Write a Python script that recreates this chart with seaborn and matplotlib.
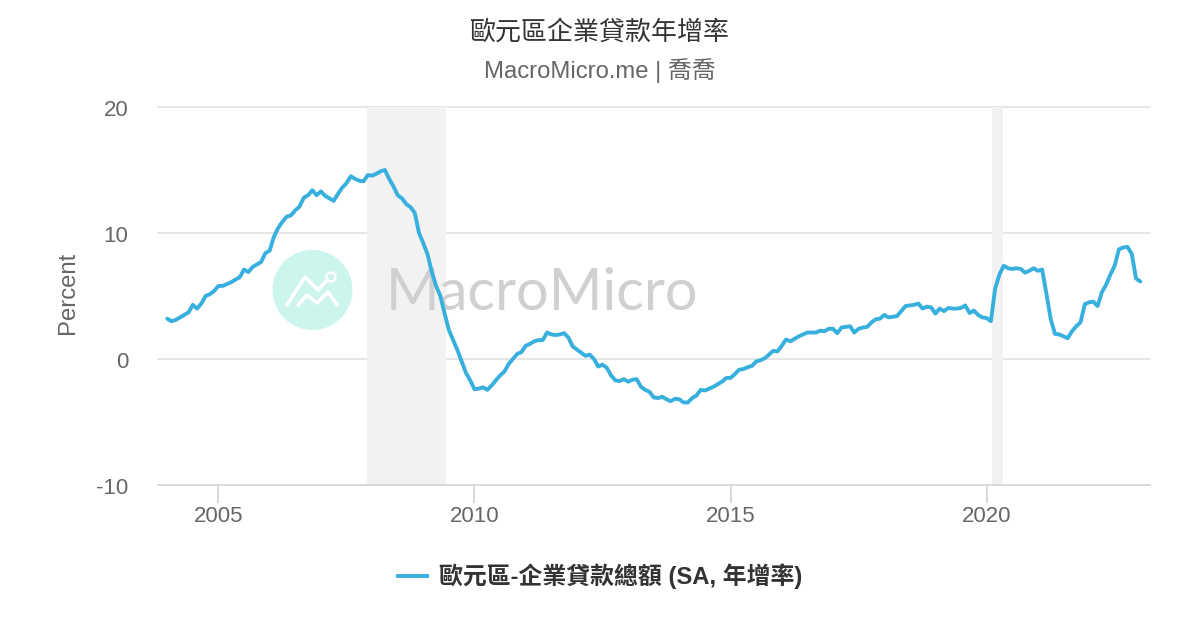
import matplotlib
matplotlib.use('Agg')
import numpy as np
import pandas as pd
import seaborn as sns
from matplotlib import pyplot as plt
from matplotlib.lines import Line2D
from matplotlib.patches import Circle
from matplotlib.transforms import ScaledTranslation

# monthly readings, one row per year
v2004 = [3.2, 3.0, 3.1, 3.3, 3.5, 3.7, 4.3, 4.0, 4.4, 5.0, 5.15, 5.4]
v2005 = [5.8, 5.8, 5.95, 6.1, 6.3, 6.5, 7.1, 6.9, 7.3, 7.5, 7.7, 8.4]
v2006 = [8.6, 9.7, 10.4, 10.9, 11.3, 11.4, 11.8, 12.1, 12.8, 13.0, 13.4, 13.0]
v2007 = [13.3, 12.95, 12.75, 12.55, 13.1, 13.6, 13.95, 14.5, 14.3, 14.15, 14.1, 14.6]
v2008 = [14.55, 14.7, 14.9, 15.0, 14.3, 13.7, 13.0, 12.75, 12.3, 12.05, 11.6, 10.0]
v2009 = [9.2, 8.3, 6.9, 5.8, 5.0, 3.6, 2.3, 1.5, 0.7, -0.2, -1.1, -1.7]
v2010 = [-2.4, -2.35, -2.25, -2.45, -2.1, -1.7, -1.3, -1.0, -0.4, 0.0, 0.4, 0.55]
v2011 = [1.05, 1.2, 1.4, 1.5, 1.5, 2.1, 1.95, 1.9, 1.95, 2.05, 1.7, 1.0]
v2012 = [0.75, 0.5, 0.25, 0.35, 0.0, -0.6, -0.45, -0.7, -1.3, -1.7, -1.75, -1.6]
v2013 = [-1.8, -1.65, -1.6, -2.2, -2.45, -2.6, -3.05, -3.1, -3.0, -3.2, -3.35, -3.15]
v2014 = [-3.2, -3.45, -3.45, -3.1, -2.9, -2.45, -2.5, -2.35, -2.2, -2.0, -1.8, -1.5]
v2015 = [-1.5, -1.2, -0.85, -0.8, -0.65, -0.55, -0.2, -0.1, 0.05, 0.35, 0.65, 0.6]
v2016 = [1.05, 1.55, 1.4, 1.6, 1.8, 1.95, 2.1, 2.1, 2.1, 2.25, 2.2, 2.4]
v2017 = [2.4, 2.05, 2.5, 2.55, 2.6, 2.1, 2.4, 2.5, 2.55, 2.9, 3.15, 3.2]
v2018 = [3.5, 3.3, 3.35, 3.4, 3.8, 4.2, 4.25, 4.3, 4.4, 4.0, 4.15, 4.1]
v2019 = [3.6, 4.0, 3.8, 4.05, 4.0, 4.0, 4.05, 4.25, 3.65, 3.85, 3.5, 3.3]
v2020 = [3.25, 3.0, 5.6, 6.7, 7.4, 7.2, 7.15, 7.2, 7.15, 6.85, 7.0, 7.2]
v2021 = [7.0, 7.1, 5.2, 3.2, 2.0, 1.95, 1.8, 1.65, 2.2, 2.6, 2.9, 4.35]
v2022 = [4.5, 4.55, 4.2, 5.3, 5.9, 6.7, 7.4, 8.7, 8.85, 8.9, 8.35, 6.4]
v2023 = [6.15]

values = (v2004 + v2005 + v2006 + v2007 + v2008 + v2009 + v2010 + v2011 + v2012 + v2013
          + v2014 + v2015 + v2016 + v2017 + v2018 + v2019 + v2020 + v2021 + v2022 + v2023)
dates = pd.date_range('2004-01-01', periods=len(values), freq='MS')
years = dates.year + (dates.month - 1) / 12

recessions = [(2007.91, 2009.45), (2020.1, 2020.31)]
xticks = [2005, 2010, 2015, 2020]
yticks = [-10, 0, 10, 20]
ytick_labels = ['-10', '0', '10', '20']

title = '歐元區企業貸款年增率'
subtitle = 'MacroMicro.me | 喬喬'
series_name = '歐元區-企業貸款總額 (SA, 年增率)'

LINE = '#38b0de'
W, H = 1200, 630

sns.set_theme(style='white')
plt.rcParams['font.family'] = ['Liberation Sans', 'Noto Sans CJK TC', 'DejaVu Sans']

df = pd.DataFrame({'year': years, 'value': values})

fig = plt.figure(figsize=(12, 6.3), dpi=100, facecolor='white')
ax = fig.add_axes([158 / W, 1 - 485 / H, (1150 - 158) / W, (485 - 107) / H])
ax.set_facecolor('white')

# grid and shaded recessions
for y in yticks[1:]:
    ax.axhline(y, color='#e6e6e6', lw=1.4, zorder=1, clip_on=False)
for a, b in recessions:
    ax.axvspan(a, b, color='#f2f2f2', lw=0, zorder=1.5)

sns.lineplot(data=df, x='year', y='value', color=LINE, lw=2.8, ax=ax, zorder=5, legend=False)

ax.set_xlim(2003.82, 2023.19)
ax.set_ylim(-10, 20)
ax.set_xticks(xticks)
ax.set_yticks(yticks)
ax.set_yticklabels(ytick_labels)
ax.tick_params(axis='both', labelsize=16, labelcolor='#666666')
ax.tick_params(axis='x', bottom=True, length=13, width=1.4, color='#d8d8d8', pad=2)
ax.tick_params(axis='y', left=False, length=0, pad=21.5)
ax.set_xlabel('')
ax.set_ylabel('')
for s in ['top', 'right', 'left']:
    ax.spines[s].set_visible(False)
ax.spines['bottom'].set_color('#d8d8d8')
ax.spines['bottom'].set_linewidth(1.4)

# y labels sit a little under their grid lines
down = ScaledTranslation(0, -1.5 / 100, fig.dpi_scale_trans)
for lab in ax.get_yticklabels():
    lab.set_transform(lab.get_transform() + down)


def px(x, y):
    return x / W, 1 - y / H


# watermark
fig_tr = fig.transFigure
ax.add_patch(Circle((312.5, H - 290), 40, transform=None, fc='#ccf5ee', ec='none', zorder=2))
logo_a = [(287, 305), (305, 277), (318, 290), (328, 279)]
logo_b = [(298, 305), (307, 295), (317, 303), (328, 292), (337, 305)]
for pts in (logo_a, logo_b):
    xs, ys = zip(*[px(*p) for p in pts])
    ax.add_line(Line2D(xs, ys, transform=fig_tr, color='white', lw=2.6, zorder=3))
ax.add_patch(Circle((331, H - 277), 4.5, transform=None, fc='#ccf5ee', ec='white', lw=1.8, zorder=3))
tx, ty = px(386, 293)
ax.text(tx, ty, 'MacroMicro', transform=fig_tr, family='Lato', fontweight='normal', fontsize=41.7,
        color='#d0d0d0', ha='left', va='center', zorder=3)

# titles and labels
fig.text(0.5, 1 - 32 / H, title, ha='center', va='center', fontsize=18.7, color='#333333')
fig.text(0.5, 1 - 71 / H, subtitle, ha='center', va='center', fontsize=17.2, color='#666666')
fig.text(68 / W, 1 - 293 / H, 'Percent', rotation=90, ha='center', va='center', fontsize=17.2, color='#666666')

# legend
lx0, ly = px(396, 576)
lx1, _ = px(429, 576)
fig.add_artist(Line2D([lx0, lx1], [ly, ly], transform=fig_tr, color=LINE, lw=2.8, solid_capstyle='butt'))
fig.text(439 / W, ly, series_name, ha='left', va='center', fontsize=17.2, fontweight='bold', color='#333333')

fig.savefig('out.png', dpi=100)
